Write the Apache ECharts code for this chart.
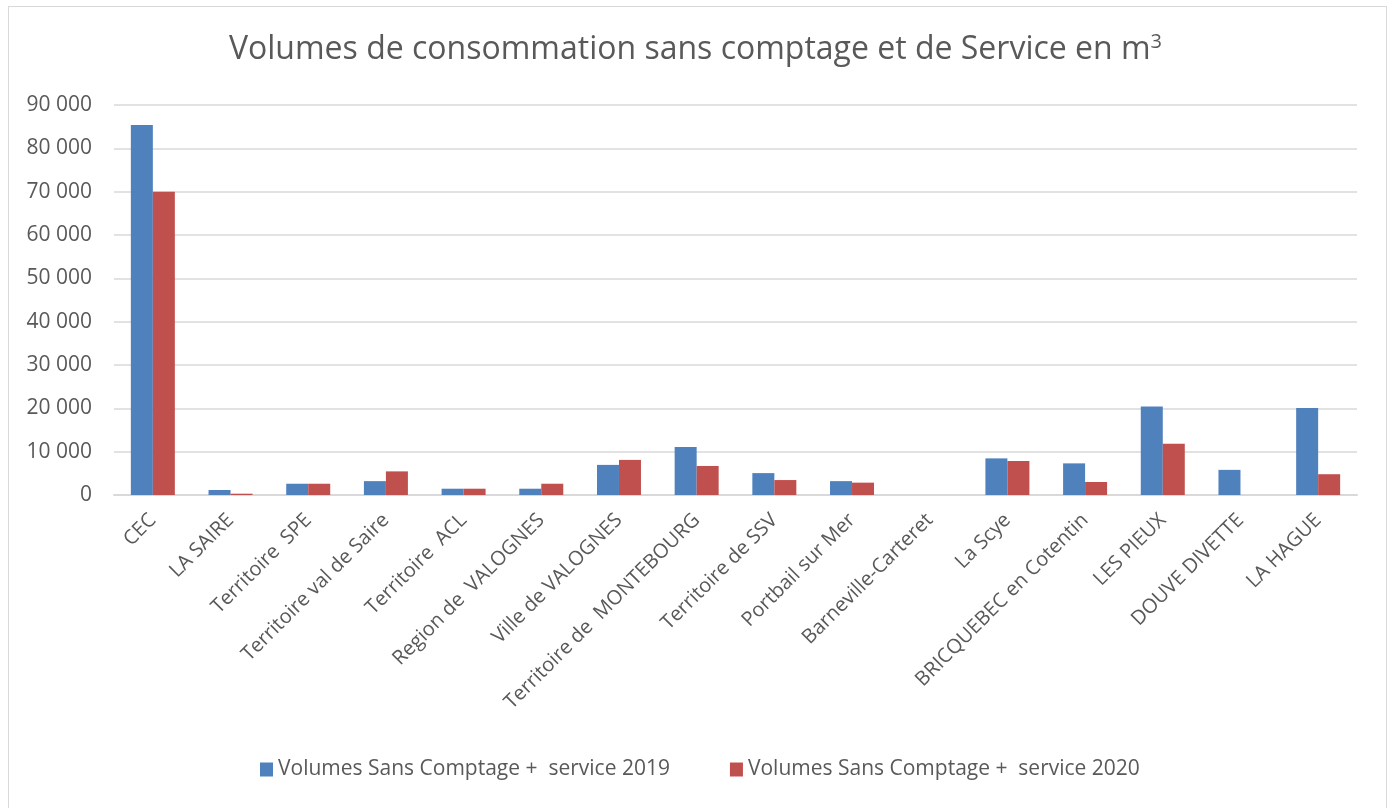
<!DOCTYPE html>
<html>
<head>
<meta charset="utf-8">
<script src="https://cdn.jsdelivr.net/npm/echarts@6/dist/echarts.min.js"></script>
<style>
  html, body { margin: 0; padding: 0; background: #fff; }
  #chart { width: 1391px; height: 808px; }
  .frame { position: absolute; left: 8px; top: 6px; width: 1379px; height: 820px; border: 1px solid #d9d9d9; box-sizing: border-box; pointer-events: none; }
</style>
</head>
<body>
<div id="chart"></div>
<div class="frame"></div>
<script>
// categories and values
const categories = [
  'CEC', 'LA SAIRE', 'Territoire  SPE', 'Territoire val de Saire', 'Territoire  ACL',
  'Region de  VALOGNES', 'Ville de VALOGNES', 'Territoire de  MONTEBOURG', 'Territoire de SSV',
  'Portbail sur Mer', 'Barneville-Carteret', 'La Scye', 'BRICQUEBEC en Cotentin',
  'LES PIEUX', 'DOUVE DIVETTE', 'LA HAGUE'
]
const vol2019 = [85400, 1150, 2600, 3200, 1450, 1450, 6950, 11100, 5050, 3200, 0, 8450, 7300, 20400, 5800, 20100]
const vol2020 = [70000, 300, 2600, 5450, 1450, 2600, 8100, 6700, 3450, 2850, 0, 7850, 3000, 11800, 0, 4800]
const seriesNames = ['Volumes Sans Comptage +  service 2019', 'Volumes Sans Comptage +  service 2020']

const font = '"Open Sans", sans-serif'
const textColor = '#595959'

const chart = echarts.init(document.getElementById('chart'))
chart.setOption({
  animation: false,
  color: ['#4f81bd', '#c0504d'],
  textStyle: { fontFamily: font },
  title: {
    text: 'Volumes de consommation sans comptage et de Service en m{sup|3}',
    left: 'center',
    top: 27,
    textStyle: {
      fontFamily: font,
      fontSize: 32,
      fontWeight: 'normal',
      color: textColor,
      rich: {
        sup: { fontSize: 20, verticalAlign: 'top', color: textColor, fontFamily: font, padding: [0, 0, 16, 0] }
      }
    }
  },
  legend: {
    bottom: 23,
    left: 255,
    itemWidth: 13,
    itemHeight: 14,
    itemGap: 60,
    icon: 'rect',
    textStyle: { fontSize: 21, color: textColor, fontFamily: font }
  },
  grid: {
    left: 114,
    right: 34,
    top: 105,
    bottom: 313,
    containLabel: false
  },
  xAxis: {
    type: 'category',
    data: categories,
    axisTick: { show: false },
    axisLine: { lineStyle: { color: '#d9d9d9', width: 2 } },
    axisLabel: {
      interval: 0,
      rotate: 45,
      margin: 22,
      fontSize: 20,
      color: textColor,
      fontFamily: font
    }
  },
  yAxis: {
    type: 'value',
    min: 0,
    max: 90000,
    interval: 10000,
    axisLine: { show: false },
    axisTick: { show: false },
    splitLine: { lineStyle: { color: '#d9d9d9', width: 1.5 } },
    axisLabel: {
      margin: 22,
      fontSize: 21,
      color: textColor,
      fontFamily: font,
      formatter: v => v === 0 ? '0' : String(v).replace(/\B(?=(\d{3})+(?!\d))/g, ' ')
    }
  },
  series: [
    { name: seriesNames[0], type: 'bar', data: vol2019, barWidth: 22, barGap: '0%' },
    { name: seriesNames[1], type: 'bar', data: vol2020, barWidth: 22, barGap: '0%' }
  ]
})
</script>
</body>
</html>
